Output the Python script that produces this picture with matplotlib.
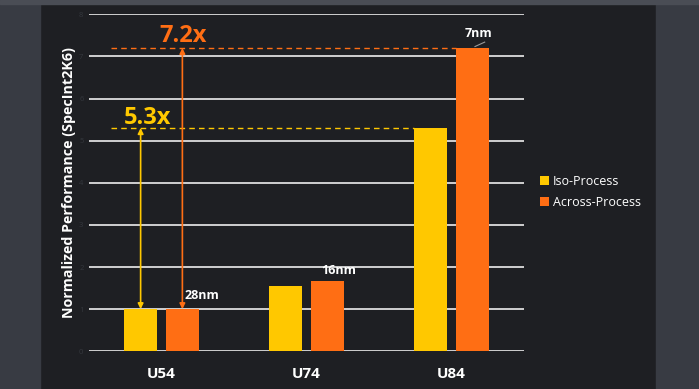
import numpy as np
import matplotlib.pyplot as plt
from matplotlib.patches import Rectangle

# Data
groups = ["U54", "U74", "U84"]
iso = [1.0, 1.55, 5.3]
across = [1.0, 1.67, 7.2]
nodes = ["28nm", "16nm", "7nm"]
gain_labels = ["5.3x", "7.2x"]

YELLOW = "#FFC800"
ORANGE = "#FF6E14"
plt.rcParams['font.family'] = ['Open Sans', 'DejaVu Sans']

fig = plt.figure(figsize=(6.99, 3.89), dpi=100, facecolor="#1e1f23")
# textured-panel look: lighter side bands
fig.patches.append(Rectangle((0, 0), 40/699, 1, transform=fig.transFigure, color="#383b43", zorder=0))
fig.patches.append(Rectangle((656/699, 0), 43/699, 1, transform=fig.transFigure, color="#383b43", zorder=0))
fig.patches.append(Rectangle((0, 1 - 4/389), 1, 4/389, transform=fig.transFigure, color="#4a4d55", zorder=0))

ax = fig.add_axes([89/699, 0.0969, 0.6223, 0.8663])
ax.set_facecolor("none")

x = np.arange(len(groups))
w = 0.228
off = 0.144
ax.bar(x - off, iso, w, color=YELLOW, label="Iso-Process", zorder=3)
ax.bar(x + off, across, w, color=ORANGE, label="Across-Process", zorder=3)

ax.set_xlim(-0.5, 2.5)
ax.set_ylim(0, 8)
ax.set_yticks(range(9))
ax.grid(axis="y", color="white", linewidth=1.1, zorder=1)
for s in ax.spines.values():
    s.set_visible(False)
ax.tick_params(axis="y", length=0, labelsize=5.5, labelcolor="#34373d", pad=4)
ax.tick_params(axis="x", length=0, pad=11)
ax.set_xticks(x)
ax.set_xticklabels(groups, color="white", fontsize=11, fontweight="bold")
ax.set_ylabel("Normalized Performance (SpecInt2K6)", color="white", fontsize=10.3, fontweight="bold")
ax.yaxis.set_label_coords(-0.03, 0.5)

# speed-up arrows and dashed reference lines
ax.annotate("", xy=(-off, iso[2]), xytext=(-off, iso[0]),
            arrowprops=dict(arrowstyle="<|-|>", color=YELLOW, lw=1.2, mutation_scale=8, shrinkA=0, shrinkB=0), zorder=4)
ax.annotate("", xy=(off, across[2]), xytext=(off, across[0]),
            arrowprops=dict(arrowstyle="<|-|>", color=ORANGE, lw=1.2, mutation_scale=8, shrinkA=0, shrinkB=0), zorder=4)
ax.plot([-0.346, 2 - off - w/2], [iso[2], iso[2]], color=YELLOW, lw=1, ls=(0, (4, 3)), zorder=2)
ax.plot([-0.346, 2 + off - w/2], [across[2], across[2]], color=ORANGE, lw=1, ls=(0, (4, 3)), zorder=2)
ax.text(-0.097, 5.4, gain_labels[0], color=YELLOW, fontsize=17, fontweight="bold", ha="center", va="baseline")
ax.text(0.152, 7.35, gain_labels[1], color=ORANGE, fontsize=17, fontweight="bold", ha="center", va="baseline")

# process node labels
ax.text(0.159, 1.24, nodes[0], color="white", fontsize=9, fontweight="bold", ha="left", va="baseline")
ax.text(1.10, 1.84, nodes[1], color="white", fontsize=9, fontweight="bold", ha="left", va="baseline")
ax.text(2.187, 7.47, nodes[2], color="white", fontsize=9, fontweight="bold", ha="center", va="baseline")
ax.plot([2.162, 2.229], [7.235, 7.34], color="#9a9a9a", lw=0.8)

leg = ax.legend(loc="center left", bbox_to_anchor=(529/699, 197/389), bbox_transform=fig.transFigure,
                frameon=False, fontsize=9, handlelength=0.7, handleheight=0.7, handletextpad=0.3,
                labelspacing=0.65)
for t in leg.get_texts():
    t.set_color("white")

fig.savefig("out.png", dpi=100, facecolor=fig.get_facecolor())
